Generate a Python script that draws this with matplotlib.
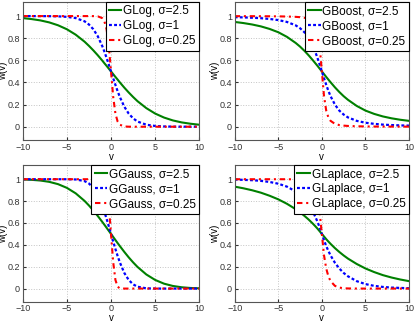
import matplotlib
matplotlib.use("Agg")
import matplotlib.pyplot as plt

plt.rcParams['font.family'] = ['Liberation Sans', 'DejaVu Sans']

v = [-10, -9, -8, -7, -6, -5, -4, -3, -2.5, -2, -1.5, -1, -0.75, -0.5, -0.25, 0,
     0.25, 0.5, 0.75, 1, 1.5, 2, 2.5, 3, 4, 5, 6, 7, 8, 9, 10]

sigma_labels = ["2.5", "1", "0.25"]

glog_25 = [0.982, 0.973, 0.961, 0.943, 0.917, 0.881, 0.832, 0.769, 0.731, 0.690, 0.646, 0.599, 0.574, 0.550, 0.525, 0.5,
           0.475, 0.450, 0.426, 0.401, 0.354, 0.310, 0.269, 0.231, 0.168, 0.119, 0.083, 0.057, 0.039, 0.027, 0.018]
glog_1 = [1.0, 0.9999, 0.9997, 0.9991, 0.9975, 0.993, 0.982, 0.953, 0.924, 0.881, 0.818, 0.731, 0.679, 0.622, 0.562, 0.5,
          0.438, 0.378, 0.321, 0.269, 0.182, 0.119, 0.076, 0.047, 0.018, 0.007, 0.0025, 0.0009, 0.0003, 0.0001, 0.0]
glog_025 = [1, 1, 1, 1, 1, 1, 1, 1, 1, 0.9997, 0.9975, 0.982, 0.953, 0.881, 0.731, 0.5,
            0.269, 0.119, 0.047, 0.018, 0.0025, 0.0003, 0, 0, 0, 0, 0, 0, 0, 0, 0]

gboost_25 = [0.947, 0.937, 0.924, 0.907, 0.884, 0.854, 0.812, 0.757, 0.724, 0.686, 0.644, 0.598, 0.574, 0.550, 0.525, 0.5,
             0.475, 0.450, 0.426, 0.402, 0.356, 0.314, 0.276, 0.243, 0.188, 0.146, 0.116, 0.093, 0.076, 0.063, 0.053]
gboost_1 = [0.990, 0.988, 0.985, 0.981, 0.974, 0.964, 0.947, 0.916, 0.890, 0.854, 0.800, 0.724, 0.676, 0.621, 0.562, 0.5,
            0.438, 0.379, 0.324, 0.276, 0.200, 0.146, 0.110, 0.084, 0.053, 0.036, 0.026, 0.019, 0.015, 0.012, 0.010]
gboost_025 = [0.9994, 0.9992, 0.9990, 0.9987, 0.9983, 0.9975, 0.996, 0.993, 0.990, 0.985, 0.974, 0.947, 0.916, 0.854, 0.724, 0.5,
              0.276, 0.146, 0.084, 0.053, 0.026, 0.015, 0.010, 0.007, 0.004, 0.0025, 0.0017, 0.0013, 0.0010, 0.0008, 0.0006]

ggauss_25 = [0.9977, 0.9945, 0.988, 0.976, 0.955, 0.921, 0.871, 0.802, 0.760, 0.714, 0.664, 0.611, 0.584, 0.556, 0.528, 0.5,
             0.472, 0.444, 0.416, 0.389, 0.336, 0.286, 0.240, 0.198, 0.129, 0.079, 0.045, 0.024, 0.012, 0.0055, 0.0023]
ggauss_1 = [1, 1, 1, 1, 1, 0.9998, 0.9977, 0.983, 0.961, 0.921, 0.856, 0.760, 0.702, 0.638, 0.570, 0.5,
            0.430, 0.362, 0.298, 0.240, 0.144, 0.079, 0.039, 0.017, 0.0023, 0.0002, 0, 0, 0, 0, 0]
ggauss_025 = [1, 1, 1, 1, 1, 1, 1, 1, 1, 1, 1, 0.9977, 0.983, 0.921, 0.760, 0.5,
              0.240, 0.079, 0.017, 0.0023, 0, 0, 0, 0, 0, 0, 0, 0, 0, 0, 0]

glaplace_25 = [0.932, 0.917, 0.899, 0.877, 0.849, 0.816, 0.775, 0.726, 0.697, 0.665, 0.630, 0.591, 0.570, 0.548, 0.524, 0.5,
               0.476, 0.452, 0.430, 0.409, 0.370, 0.335, 0.303, 0.274, 0.225, 0.184, 0.151, 0.123, 0.101, 0.083, 0.068]
glaplace_1 = [0.997, 0.994, 0.991, 0.985, 0.975, 0.959, 0.932, 0.888, 0.857, 0.816, 0.764, 0.697, 0.656, 0.611, 0.559, 0.5,
              0.441, 0.389, 0.344, 0.303, 0.236, 0.184, 0.143, 0.112, 0.068, 0.041, 0.025, 0.015, 0.009, 0.006, 0.003]
glaplace_025 = [1, 1, 1, 1, 1, 1, 0.9998, 0.9988, 0.997, 0.991, 0.975, 0.932, 0.888, 0.816, 0.697, 0.5,
                0.303, 0.184, 0.112, 0.068, 0.025, 0.009, 0.003, 0.0012, 0.0002, 0, 0, 0, 0, 0, 0]

panels = [
    ("GLog", [glog_25, glog_1, glog_025]),
    ("GBoost", [gboost_25, gboost_1, gboost_025]),
    ("GGauss", [ggauss_25, ggauss_1, ggauss_025]),
    ("GLaplace", [glaplace_25, glaplace_1, glaplace_025]),
]

xticks = [-10, -5, 0, 5, 10]
yticks = [0, 0.2, 0.4, 0.6, 0.8, 1]
ytick_labels = ["0", "0.2", "0.4", "0.6", "0.8", "1"]

W, H = 415, 323
fig = plt.figure(figsize=(W / 100, H / 100), dpi=100)

boxes = [
    (22.7, 1.7, 199.3, 140.0),
    (234.7, 1.7, 409.0, 140.0),
    (22.7, 165.0, 199.3, 301.7),
    (234.7, 165.0, 409.0, 301.7),
]

styles = [
    dict(color=(0, 0.5, 0), lw=1.5, linestyle='-'),
    dict(color=(0, 0, 1), lw=1.6, linestyle=(0, (1.3, 1.0))),
    dict(color=(1, 0, 0), lw=1.5, linestyle=(0, (2.6, 1.8, 1.0, 1.8))),
]

for (name, series), (x0, y0, x1, y1) in zip(panels, boxes):
    ax = fig.add_axes([x0 / W, 1 - y1 / H, (x1 - x0) / W, (y1 - y0) / H])
    for s, lab, st in zip(series, sigma_labels, styles):
        ax.plot(v, s, label=f"{name}, σ={lab}", **st)
    ax.set_xlim(-10, 10)
    ax.set_ylim(-0.12, 1.13)
    ax.set_xticks(xticks)
    ax.set_xticklabels(["\u221210", "\u22125", "0", "5", "10"])
    ax.set_yticks(yticks)
    ax.set_yticklabels(ytick_labels)
    ax.tick_params(direction='in', length=2.5, labelsize=6.5, pad=2, colors='#333333')
    ax.grid(True, linestyle=':', color='#c4c4c4', linewidth=0.7)
    for sp in ax.spines.values():
        sp.set_color('#555555')
        sp.set_linewidth(0.8)
    ax.set_xlabel("v", fontsize=7, labelpad=0)
    ax.set_ylabel("w(v)", fontsize=7)
    axw = x1 - x0
    ax.yaxis.set_label_coords(-(x0 - 8.5 - (0 if x0 < 100 else 211.5)) / axw, 0.5)
    leg = ax.legend(loc='upper right', fontsize=8.5, borderaxespad=0, frameon=True,
                    fancybox=False, handlelength=1.05, handletextpad=0.15,
                    labelspacing=0.25, borderpad=0.3)
    leg.get_frame().set_edgecolor('black')
    leg.get_frame().set_linewidth(0.8)
    leg.get_frame().set_alpha(1)

fig.savefig("out.png", dpi=100)
